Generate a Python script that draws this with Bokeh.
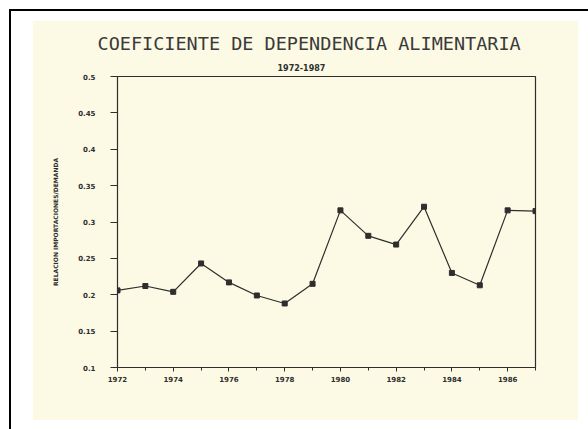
from bokeh.plotting import figure
from bokeh.models import FixedTicker, Title
from bokeh.layouts import column
from bokeh.embed import file_html
from bokeh.resources import INLINE

years = list(range(1972, 1988))
coef = [0.206, 0.212, 0.204, 0.243, 0.217, 0.199, 0.188, 0.215,
        0.316, 0.281, 0.269, 0.321, 0.230, 0.213, 0.316, 0.315]
x_ticks = [1972, 1974, 1976, 1978, 1980, 1982, 1984, 1986]
y_ticks = [0.1, 0.15, 0.2, 0.25, 0.3, 0.35, 0.4, 0.45, 0.5]
y_tick_labels = ["0.1", "0.15", "0.2", "0.25", "0.3", "0.35", "0.4", "0.45", "0.5"]
title_text = "COEFICIENTE DE DEPENDENCIA ALIMENTARIA"
subtitle_text = "1972-1987"
y_label = "RELACION IMPORTACIONES/DEMANDA"

CREAM = "#fcfae4"
INK = "#2e2e2e"

p = figure(width=546, height=400, output_backend="svg", toolbar_location=None,
           x_range=(1972, 1987), y_range=(0.1, 0.5), title=None,
           min_border_left=85, min_border_right=43, min_border_top=56, min_border_bottom=53)
p.background_fill_color = CREAM
p.border_fill_color = CREAM
p.outline_line_color = INK
p.outline_line_width = 1.2
p.xgrid.visible = False
p.ygrid.visible = False

p.line(years, coef, line_color=INK, line_width=1.2)
p.scatter(years, coef, marker="square", size=5, fill_color=INK, line_color=INK)

p.xaxis.ticker = FixedTicker(ticks=x_ticks, minor_ticks=years)
p.yaxis.ticker = FixedTicker(ticks=y_ticks, minor_ticks=[])
p.yaxis.major_label_overrides = {t: l for t, l in zip(y_ticks, y_tick_labels)}
p.xaxis.major_label_overrides = {t: str(t) for t in x_ticks}

for ax in (p.xaxis[0], p.yaxis[0]):
    ax.axis_line_color = INK
    ax.major_tick_line_color = INK
    ax.minor_tick_line_color = INK
    ax.major_tick_in = 0
    ax.minor_tick_in = 0
    ax.major_label_text_font = "DejaVu Sans"
    ax.major_label_text_font_style = "bold"
    ax.major_label_text_font_size = "7px"
    ax.major_label_text_color = INK

p.yaxis.major_tick_out = 7
p.yaxis.major_label_standoff = 15
p.xaxis.major_tick_out = 4
p.xaxis.minor_tick_out = 3
p.xaxis.major_label_standoff = 4

p.yaxis.axis_label = y_label
p.yaxis.axis_label_text_font = "DejaVu Sans"
p.yaxis.axis_label_text_font_style = "bold"
p.yaxis.axis_label_text_font_size = "6px"
p.yaxis.axis_label_text_color = INK
p.yaxis.axis_label_standoff = 16

p.add_layout(Title(text=subtitle_text, text_font="DejaVu Sans", text_font_style="bold",
                   text_font_size="8px", text_color=INK, align="left",
                   offset=160, standoff=12), "above")
p.add_layout(Title(text=title_text, text_font="DejaVu Sans Mono", text_font_style="normal",
                   text_font_size="18.5px", text_color="#3a3a3a", align="left",
                   offset=-20, standoff=3), "above")

page = column(p, styles={"border-left": "2px solid black", "border-top": "2px solid black",
                         "margin-left": "9px", "margin-top": "9px",
                         "padding-left": "21px", "padding-top": "9px",
                         "padding-right": "10px", "padding-bottom": "9px",
                         "background-color": "white"})

open("out.html", "w").write(file_html(page, INLINE))
